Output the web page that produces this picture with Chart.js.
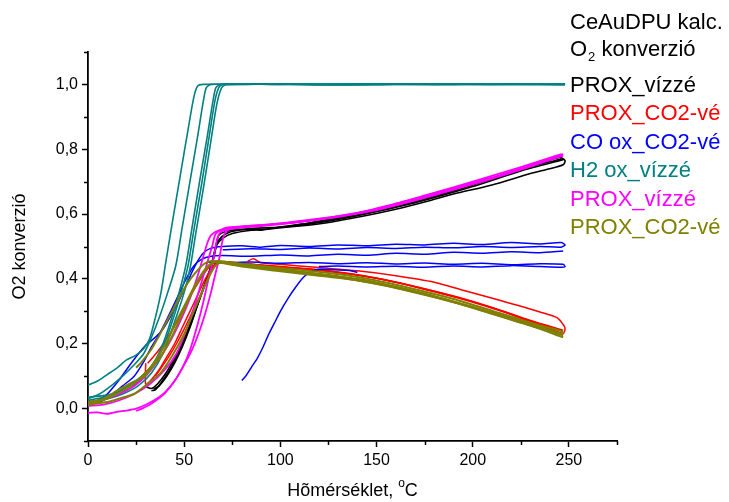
<!DOCTYPE html>
<html>
<head>
<meta charset="utf-8">
<script src="https://cdn.jsdelivr.net/npm/chart.js@4.4.1/dist/chart.umd.min.js"></script>
<style>
  html, body { margin: 0; padding: 0; background: #fff; }
  #chart { display: block; }
</style>
</head>
<body>
<canvas id="chart" width="729" height="502"></canvas>
<script>
'use strict';

// header lines of the legend box
var headerTitle = 'CeAuDPU kalc.';
var headerSub = ['O', '2', ' konverzió'];

var xTicks = [0, 50, 100, 150, 200, 250];
var yTicks = [0, 0.2, 0.4, 0.6, 0.8, 1.0];
var xMinorTicks = [25, 75, 125, 175, 225, 275];
var yMinorTicks = [-0.1, 0.1, 0.3, 0.5, 0.7, 0.9, 1.1];

var seriesNames = ['PROX_vízzé', 'PROX_CO2-vé', 'CO ox_CO2-vé', 'H2 ox_vízzé', 'PROX_vízzé', 'PROX_CO2-vé'];

// black - PROX_vizze
var blackRun1 = [[30,0.068],[33,0.062],[36,0.075],[40,0.105],[44,0.145],[48,0.19],[52,0.245],[56,0.305],[60,0.37],[63,0.42],[65.5,0.47],[67,0.505],[70,0.525],[75,0.54],[85,0.55],[100,0.558],[126,0.585],[150,0.615],[175,0.65],[195,0.683],[215,0.718],[230,0.747],[245,0.775],[248,0.765],[247,0.752],[240,0.74],[230,0.725],[210,0.69],[190,0.662],[178,0.642],[160,0.615],[140,0.59],[126,0.575],[110,0.563],[95,0.555]];
var blackRun2 = [[33,0.055],[35,0.058],[38,0.08],[42,0.115],[46,0.16],[50,0.21],[54,0.27],[58,0.34],[61,0.39],[64,0.44],[66,0.49],[68,0.52],[72,0.54],[78,0.55],[86,0.553],[90,0.55],[100,0.56],[126,0.582],[150,0.61],[175,0.645],[200,0.69],[225,0.738],[246,0.77]];
var blackRun3 = [[34,0.06],[37,0.07],[41,0.1],[45,0.14],[49,0.19],[53,0.25],[57,0.32],[61,0.385],[64,0.43],[66.5,0.5],[68,0.535],[73,0.548],[85,0.555],[110,0.565],[140,0.595],[170,0.635],[200,0.685],[225,0.733],[247,0.768]];

// red - PROX_CO2-ve
var redRun1 = [[30,0.14],[30,0.075],[33,0.09],[37,0.12],[41,0.16],[45,0.2],[49,0.25],[53,0.3],[57,0.35],[61,0.4],[64,0.43],[67,0.45],[72,0.452],[80,0.448],[100,0.437],[120,0.427],[140,0.412],[160,0.39],[180,0.36],[200,0.328],[215,0.3],[230,0.268],[247,0.232],[248,0.245],[247.5,0.255],[244,0.28],[235,0.298],[214,0.334],[195,0.365],[180,0.39],[160,0.41],[140,0.425],[120,0.435],[100,0.445],[90,0.45],[86,0.462],[83,0.455]];
var redRun2 = [[31,0.14],[34,0.16],[38,0.19],[42,0.225],[46,0.265],[50,0.31],[54,0.355],[58,0.395],[62,0.43],[66,0.45],[72,0.453],[85,0.445],[100,0.438],[120,0.428],[140,0.413],[160,0.39],[180,0.362],[200,0.33],[220,0.292],[235,0.26],[247,0.238]];
var redRun3 = [[35,0.1],[38,0.125],[42,0.16],[46,0.2],[50,0.245],[54,0.295],[58,0.345],[61,0.385],[64,0.425],[67,0.448],[75,0.45],[90,0.442],[110,0.432],[130,0.42],[150,0.402],[170,0.377],[190,0.347],[210,0.312],[230,0.272],[247,0.242]];

// blue - CO ox_CO2-ve
var blueRun1 = [[0,0.02],[5,0.025],[10,0.045],[16,0.087],[20,0.12],[25,0.16],[30,0.195],[35,0.22],[39,0.245],[43,0.285],[47,0.33],[51,0.38],[54,0.42],[57,0.455],[60,0.48],[64,0.495],[70,0.5],[80,0.502],[90,0.498],[100,0.503],[115,0.5],[130,0.505],[145,0.502],[160,0.507],[175,0.505],[190,0.51],[205,0.506],[220,0.512],[235,0.508],[246,0.512],[248,0.505],[246,0.498],[235,0.5],[220,0.497],[205,0.5],[190,0.496],[175,0.498],[160,0.494],[145,0.497],[130,0.492],[115,0.495],[100,0.491],[85,0.493],[70,0.49]];
var blueRun2 = [[0,0.015],[6,0.02],[12,0.04],[18,0.07],[24,0.1],[29,0.145],[33,0.19],[38,0.24],[43,0.3],[47,0.35],[51,0.4],[55,0.44],[59,0.46],[64,0.47],[70,0.472],[85,0.47],[100,0.474],[115,0.471],[130,0.476],[145,0.473],[160,0.479],[175,0.476],[190,0.482],[205,0.479],[220,0.484],[235,0.481],[247,0.486]];
var blueRun3 = [[62,0.452],[70,0.45],[85,0.452],[100,0.448],[115,0.451],[130,0.447],[145,0.45],[160,0.446],[175,0.449],[190,0.445],[205,0.448],[220,0.444],[235,0.447],[247,0.445],[248,0.438],[246,0.436],[235,0.438],[220,0.441],[205,0.437],[190,0.44],[175,0.436],[160,0.439],[145,0.437],[130,0.44],[120,0.438]];
var blueRun4 = [[80,0.087],[82,0.1],[85,0.128],[88,0.155],[91,0.19],[94,0.23],[97,0.265],[100,0.3],[104,0.34],[108,0.375],[112,0.405],[116,0.423],[120,0.43],[128,0.428],[136,0.426],[140,0.42]];

// teal - H2 ox_vizze
var tealRun1 = [[0,0.072],[5,0.085],[10,0.105],[15,0.125],[20,0.15],[25,0.165],[29,0.185],[32,0.215],[35,0.28],[38,0.36],[40.4,0.45],[44,0.58],[48,0.72],[52,0.86],[55,0.96],[57,0.995],[60,1.0],[80,1.0],[100,1.002],[130,0.999],[160,1.001],[190,1.0],[220,1.001],[248,1.0]];
var tealRun2 = [[0,0.03],[6,0.045],[12,0.07],[18,0.1],[24,0.135],[29,0.17],[33,0.22],[37,0.28],[41,0.35],[45.6,0.44],[49,0.56],[53,0.7],[57,0.84],[60,0.95],[61.5,0.99],[64,1.0],[90,1.001],[120,0.998],[150,1.0],[180,1.002],[210,0.999],[248,1.0]];
var tealRun3 = [[0,0.035],[8,0.04],[15,0.05],[22,0.075],[28,0.1],[34,0.14],[39,0.2],[43,0.27],[47,0.35],[50.8,0.44],[54,0.555],[58,0.7],[62,0.84],[65,0.95],[66.5,0.99],[69,1.0],[100,1.0],[140,1.002],[180,0.999],[220,1.001],[248,1.0]];
var tealRun4 = [[0,0.025],[8,0.035],[16,0.05],[24,0.075],[30,0.105],[36,0.15],[41,0.22],[45,0.29],[48.5,0.36],[52,0.44],[55,0.55],[59,0.69],[63,0.84],[66,0.95],[68,0.99],[70,1.0],[110,1.001],[150,0.999],[200,1.001],[248,1.0]];
var tealRun5 = [[0,0.02],[10,0.03],[18,0.045],[26,0.07],[33,0.11],[39,0.17],[44,0.25],[48,0.32],[51,0.38],[53.3,0.44],[56,0.54],[60,0.68],[64,0.83],[67,0.94],[69.5,0.99],[72,1.0],[120,1.0],[170,1.002],[248,1.0]];

// magenta - PROX_vizze
var magRun1 = [[0,-0.013],[5,-0.012],[10,-0.016],[15,-0.01],[20,-0.006],[25,0.0],[30,0.012],[35,0.028],[40,0.05],[45,0.085],[49,0.125],[53,0.18],[57,0.26],[60,0.33],[63,0.41],[65.5,0.47],[67,0.52],[69,0.545],[75,0.555],[90,0.563],[110,0.575],[126,0.588],[150,0.612],[178,0.655],[200,0.692],[225,0.737],[247,0.78]];
var magRun2 = [[25,-0.007],[28,0.0],[32,0.012],[36,0.028],[40,0.048],[45,0.085],[50,0.135],[54,0.18],[58,0.24],[61,0.295],[64,0.36],[66,0.41],[68.5,0.47],[70,0.52],[72,0.548],[78,0.56],[95,0.568],[115,0.58],[135,0.597],[160,0.628],[185,0.668],[210,0.71],[230,0.748],[247,0.785]];
var magRun3 = [[0,0.02],[6,0.025],[12,0.035],[18,0.05],[24,0.07],[30,0.1],[36,0.145],[42,0.2],[48,0.27],[53,0.34],[57,0.41],[60,0.47],[62,0.51],[64,0.535],[68,0.55],[80,0.56],[100,0.57],[126,0.59],[150,0.616],[178,0.662],[200,0.7],[225,0.745],[246,0.785]];
var magRun4 = [[0,0.008],[8,0.012],[16,0.025],[24,0.045],[32,0.075],[40,0.12],[46,0.17],[51,0.24],[55,0.31],[59,0.39],[62,0.45],[64.5,0.5],[66.5,0.54],[72,0.558],[90,0.566],[115,0.582],[140,0.603],[165,0.64],[190,0.68],[215,0.722],[235,0.76],[247,0.783]];

// olive - PROX_CO2-ve
var oliveRun1 = [[0,0.015],[6,0.022],[11.8,0.036],[18,0.055],[23.9,0.077],[28,0.1],[32.6,0.128],[37,0.165],[41.2,0.21],[46,0.27],[51.6,0.334],[56,0.385],[60.3,0.426],[64,0.448],[67,0.455],[75,0.45],[90,0.44],[110,0.428],[130,0.415],[150,0.395],[170,0.368],[190,0.338],[210,0.302],[230,0.265],[247,0.238]];
var oliveRun2 = [[25,0.126],[28,0.145],[32.6,0.18],[37,0.225],[41.2,0.272],[46,0.325],[51.6,0.385],[56,0.42],[60.3,0.446],[64,0.455],[70,0.452],[85,0.44],[105,0.426],[125,0.412],[145,0.395],[165,0.368],[185,0.337],[205,0.302],[225,0.265],[247,0.228]];
var oliveRun3 = [[0,0.02],[8,0.03],[15.3,0.056],[22,0.078],[29,0.097],[33,0.125],[37.8,0.159],[43,0.215],[48.2,0.282],[53,0.345],[58.5,0.406],[62,0.435],[66,0.452],[72,0.448],[90,0.435],[110,0.42],[130,0.405],[150,0.385],[170,0.358],[190,0.328],[210,0.293],[230,0.256],[247,0.22]];
var oliveRun4 = [[0,0.012],[10,0.02],[17,0.032],[23.9,0.045],[30,0.072],[37.8,0.11],[44,0.165],[50,0.23],[55,0.3],[59,0.355],[62,0.395],[65,0.43],[68,0.45],[76,0.445],[95,0.432],[115,0.418],[135,0.403],[155,0.382],[175,0.355],[195,0.322],[215,0.287],[235,0.25],[247,0.226]];
var oliveRun5 = [[67,0.452],[80,0.438],[100,0.424],[120,0.41],[140,0.395],[160,0.373],[180,0.345],[200,0.313],[220,0.278],[240,0.242],[247,0.23]];

var seriesRuns = [
  [blackRun1, blackRun2, blackRun3],
  [redRun1, redRun2, redRun3],
  [blueRun1, blueRun2, blueRun3, blueRun4],
  [tealRun1, tealRun2, tealRun3, tealRun4, tealRun5],
  [magRun1, magRun2, magRun3, magRun4],
  [oliveRun1, oliveRun2, oliveRun3, oliveRun4, oliveRun5]
];

var seriesColors = ['#000000', '#FF0000', '#0000FF', '#008080', '#FF00FF', '#808000'];
var seriesWidths = [1.6, 1.5, 1.5, 1.6, 1.8, 2];
var fontFamily = '"Liberation Sans", Arial, sans-serif';

var datasets = [];
seriesRuns.forEach(function (runs, i) {
  runs.forEach(function (run) {
    datasets.push({
      label: seriesNames[i],
      data: run.map(function (p) { return { x: p[0], y: p[1] }; }),
      borderColor: seriesColors[i],
      backgroundColor: seriesColors[i],
      borderWidth: seriesWidths[i],
      showLine: true,
      fill: false,
      // later series are painted over earlier ones
      order: seriesRuns.length - i
    });
  });
});

// minor ticks, axis titles and the text legend
var decorations = {
  id: 'decorations',
  afterDraw: function (chart) {
    var ctx = chart.ctx, xs = chart.scales.x, ys = chart.scales.y;
    var area = chart.chartArea;
    ctx.save();
    ctx.strokeStyle = '#000';
    ctx.lineWidth = 1.5;
    xMinorTicks.forEach(function (v) {
      var px = Math.round(xs.getPixelForValue(v)) + 0.5;
      ctx.beginPath(); ctx.moveTo(px, area.bottom); ctx.lineTo(px, area.bottom + 4); ctx.stroke();
    });
    yMinorTicks.forEach(function (v) {
      var py = Math.round(ys.getPixelForValue(v)) + 0.5;
      ctx.beginPath(); ctx.moveTo(area.left, py); ctx.lineTo(area.left - 4, py); ctx.stroke();
    });

    ctx.fillStyle = '#000';
    ctx.textBaseline = 'middle';

    // x title with raised small o
    ctx.font = '18px ' + fontFamily;
    var a = 'Hõmérséklet, ', b = 'o', c = 'C';
    var wa = ctx.measureText(a).width, wc = ctx.measureText(c).width;
    ctx.font = '12px ' + fontFamily;
    var wb = ctx.measureText(b).width;
    var cx = (area.left + area.right) / 2;
    var x0 = cx - (wa + wb + wc) / 2, ty = 491;
    ctx.textAlign = 'left';
    ctx.font = '18px ' + fontFamily;
    ctx.fillText(a, x0, ty);
    ctx.font = '12px ' + fontFamily;
    ctx.fillText(b, x0 + wa, ty - 7);
    ctx.font = '18px ' + fontFamily;
    ctx.fillText(c, x0 + wa + wb, ty);

    // y title
    ctx.save();
    ctx.translate(20, (area.top + area.bottom) / 2);
    ctx.rotate(-Math.PI / 2);
    ctx.textAlign = 'center';
    ctx.fillText('O2 konverzió', 0, 0);
    ctx.restore();

    // legend text
    var lx = 570;
    ctx.textAlign = 'left';
    ctx.font = '22px ' + fontFamily;
    ctx.fillText(headerTitle, lx, 23);
    var w0 = ctx.measureText(headerSub[0]).width;
    ctx.fillText(headerSub[0], lx, 50);
    ctx.font = '13px ' + fontFamily;
    var w1 = ctx.measureText(headerSub[1]).width;
    ctx.fillText(headerSub[1], lx + w0 + 1, 57);
    ctx.font = '22px ' + fontFamily;
    ctx.fillText(headerSub[2], lx + w0 + w1 + 1, 50);

    var rowY = [85.5, 114, 142.5, 171, 199.5, 228];
    seriesNames.forEach(function (name, i) {
      ctx.fillStyle = seriesColors[i];
      ctx.fillText(name, lx, rowY[i]);
    });
    ctx.restore();
  }
};

var tickFont = { family: fontFamily, size: 16 };

var chart = new Chart(document.getElementById('chart').getContext('2d'), {
  type: 'scatter',
  data: { datasets: datasets },
  plugins: [decorations],
  options: {
    responsive: false,
    animation: false,
    events: [],
    layout: { padding: { top: 52, right: 112, left: 0, bottom: 0 } },
    elements: {
      point: { radius: 0 },
      line: { borderWidth: 1.5, tension: 0.25 }
    },
    plugins: {
      legend: { display: false },
      tooltip: { enabled: false }
    },
    scales: {
      x: {
        type: 'linear',
        min: 0,
        max: 275,
        afterFit: function (s) { s.height = 61; },
        afterBuildTicks: function (s) { s.ticks = xTicks.map(function (v) { return { value: v }; }); },
        border: { color: '#000', width: 1.8 },
        grid: { drawOnChartArea: false, color: '#000', tickLength: 6, tickWidth: 1.5 },
        ticks: { font: tickFont, color: '#000', padding: 4, maxRotation: 0, autoSkip: false,
                 callback: function (v) { return String(v); } }
      },
      y: {
        type: 'linear',
        min: -0.1,
        max: 1.1,
        afterFit: function (s) { s.width = 88; },
        afterBuildTicks: function (s) { s.ticks = yTicks.map(function (v) { return { value: v }; }); },
        border: { color: '#000', width: 1.8 },
        grid: { drawOnChartArea: false, color: '#000', tickLength: 6, tickWidth: 1.5 },
        ticks: { font: tickFont, color: '#000', padding: 4, autoSkip: false,
                 callback: function (v) { return v.toFixed(1).replace('.', ','); } }
      }
    }
  }
});
</script>
</body>
</html>
